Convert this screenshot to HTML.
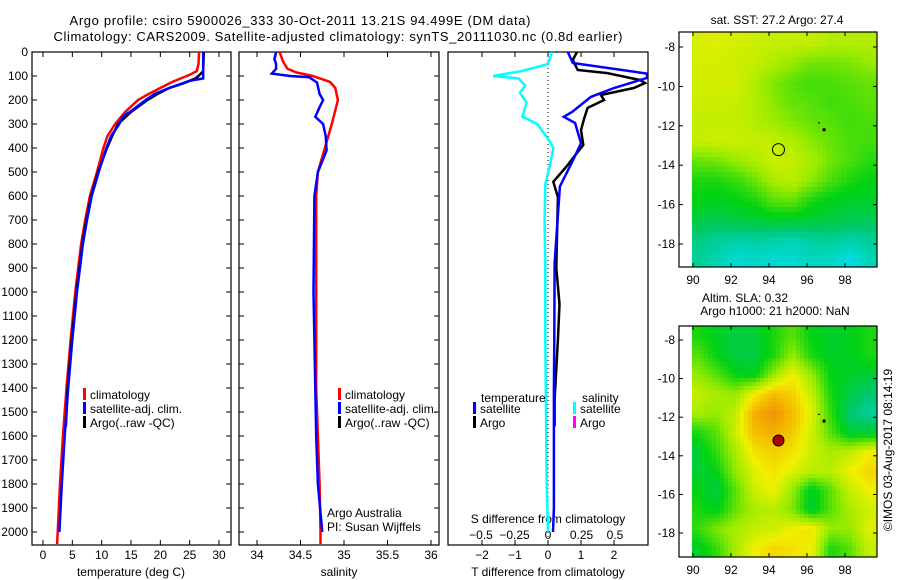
<!DOCTYPE html>
<html><head><meta charset="utf-8"><style>
html,body{margin:0;padding:0;background:#fff;}
svg{display:block;font-family:"Liberation Sans",sans-serif;}
text{font-size:12px;fill:#000;}
</style></head><body>
<svg id="fig" width="900" height="580" viewBox="0 0 900 580" xmlns="http://www.w3.org/2000/svg">
<defs>
<clipPath id="c1"><rect x="32" y="52" width="199" height="493"/></clipPath>
<clipPath id="c2"><rect x="239" y="52" width="200" height="493"/></clipPath>
<clipPath id="c3"><rect x="448" y="52" width="200" height="493"/></clipPath>
</defs>
<text x="300" y="25" text-anchor="middle" style="font-size:13px" textLength="461">Argo profile: csiro 5900026_333 30-Oct-2011 13.21S 94.499E (DM data)</text>
<text x="338" y="41" text-anchor="middle" style="font-size:13px" textLength="569">Climatology: CARS2009. Satellite-adjusted climatology: synTS_20111030.nc (0.8d earlier)</text>
<g id="g1"></g>
<g id="g2"></g>
<g id="g3"></g>
<g id="m1"></g>
<g id="m2"></g>
<text transform="translate(892,450) rotate(-90)" text-anchor="middle">©IMOS 03-Aug-2017 08:14:19</text>
</svg>
<script>
// ---- data ----
const depthClim = [0,50,80,95,110,125,150,175,200,250,300,350,400,500,600,700,800,900,1000,1200,1400,1600,1800,2000,2050];
const tempClim = [26.6,26.5,26.2,25,23.5,22,20,18,16.2,14,12.3,11,10.3,9.2,8,7.2,6.5,6,5.5,4.7,4.0,3.4,2.9,2.5,2.4];
const depthSat = [0,110,120,150,175,200,250,270,300,350,400,500,600,700,800,1000,1200,1400,1600,1800,2000];
const tempSat = [27.3,27.3,25,21.5,19,17.5,14.8,13.5,13,11.6,10.8,9.5,8.3,7.5,6.8,5.8,5.0,4.3,3.7,3.2,2.8];
const depthArgo = [0,80,100,110,130,150,175,200,250,300,350,400,500,600,700,800,1000,1200,1400,1560];
const tempArgo = [27.4,27.3,26.5,26,24,21.5,19.5,17.8,15,12.8,11.8,10.9,9.4,8.2,7.4,6.7,5.7,4.9,4.2,3.9];
const depthSalC = [0,40,70,85,100,125,150,200,300,400,500,600,800,1000,1400,1600,1800,2000,2050];
const salClim = [34.26,34.3,34.35,34.45,34.64,34.84,34.9,34.93,34.86,34.78,34.70,34.68,34.68,34.68,34.68,34.7,34.72,34.73,34.73];
const depthSalS = [0,30,50,70,90,100,105,127,175,200,230,270,300,350,410,500,600,1000,1400,1600,1800,2000];
const salSat = [34.22,34.2,34.22,34.22,34.17,34.38,34.6,34.69,34.72,34.76,34.72,34.67,34.76,34.79,34.8,34.70,34.66,34.65,34.67,34.68,34.7,34.75];
const depthTdS = [0,46,90,108,150,187,250,270,296,380,450,560,880,1200,1400,1900,2000];
const tdiffSat = [0.6,0.75,3.0,3.0,2.0,1.3,0.73,0.48,0.82,1.0,0.76,0.36,0.2,0.19,0.18,0.18,0.15];
const depthTdA = [0,33,75,88,117,129,150,179,200,233,275,325,387,479,541,604,900,1050,1200,1450,1560];
const tdiffArgo = [0.88,0.75,0.9,1.8,2.8,2.94,2.6,1.6,1.7,1.2,1.1,1.0,1.07,0.55,0.16,0.3,0.25,0.35,0.3,0.2,0.2];
const depthSd = [0,50,80,100,110,140,170,210,270,300,370,400,470,550,700,900,1200,1500,1800,2000];
const sdiffSat = [0.03,0.0,-0.2,-0.41,-0.22,-0.17,-0.21,-0.16,-0.19,-0.08,0.01,0.04,0.015,-0.02,-0.025,-0.02,-0.02,-0.015,-0.01,0.0];
const depthTicks = [0,100,200,300,400,500,600,700,800,900,1000,1100,1200,1300,1400,1500,1600,1700,1800,1900,2000];
const tempTicks = [0,5,10,15,20,25,30];
const salTicks = [34,34.5,35,35.5,36];
const salTickLabels = ["34","34.5","35","35.5","36"];
const tdTicks = [-2,-1,0,1,2];
const sdTicks = [-0.5,-0.25,0,0.25,0.5];
const sdTickLabels = ["-0.5","-0.25","0","0.25","0.5"];
const lonTicks = [90,92,94,96,98];
const latTicks = [-8,-10,-12,-14,-16,-18];
const argoLon = 94.499, argoLat = -13.21;
const sstGrid = [
[.67,.68,.67,.66,.65,.65,.65,.63,.63,.63],
[.67,.67,.66,.65,.63,.6,.57,.57,.58,.6],
[.66,.67,.67,.63,.58,.55,.53,.54,.55,.56],
[.66,.66,.65,.63,.59,.56,.55,.53,.54,.55],
[.65,.65,.65,.63,.61,.58,.56,.55,.53,.54],
[.65,.66,.66,.65,.65,.63,.59,.56,.54,.53],
[.56,.57,.6,.63,.66,.65,.62,.57,.54,.51],
[.5,.5,.52,.56,.62,.64,.59,.54,.5,.48],
[.48,.47,.48,.5,.55,.56,.5,.47,.46,.46],
[.44,.43,.44,.45,.46,.46,.45,.44,.43,.42],
[.38,.36,.34,.35,.34,.33,.35,.36,.34,.36],
[.36,.33,.3,.31,.3,.3,.32,.31,.28,.33]];
const slaGrid = [
[.5,.47,.44,.45,.5,.55,.48,.46,.47,.5],
[.55,.48,.44,.44,.5,.6,.5,.46,.47,.5],
[.6,.55,.48,.47,.6,.7,.6,.48,.46,.45],
[.65,.62,.6,.7,.78,.75,.65,.5,.44,.4],
[.62,.6,.65,.8,.85,.78,.68,.52,.4,.35],
[.5,.55,.66,.78,.8,.76,.66,.55,.45,.45],
[.45,.52,.62,.72,.75,.72,.66,.62,.64,.7],
[.45,.48,.6,.68,.72,.68,.64,.64,.7,.74],
[.48,.44,.55,.66,.7,.6,.46,.55,.65,.7],
[.5,.47,.56,.62,.64,.58,.45,.55,.62,.66],
[.52,.58,.62,.65,.66,.7,.72,.6,.6,.68],
[.46,.52,.62,.7,.74,.72,.7,.5,.55,.65]];
const gridLon0 = 90.25, gridLat0 = -7.8;

// ---- helpers ----
const NS="http://www.w3.org/2000/svg";
function el(tag, attrs, parent){const e=document.createElementNS(NS,tag);for(const k in attrs)e.setAttribute(k,attrs[k]);parent.appendChild(e);return e;}
const yD = d => 52 + d*0.24;
const xT = t => 43 + t*5.867;
const xS = s => 257 + (s-34)*87;
const xTd = t => 548 + t*33;
const xSd = s => 548 + s*134;

function line(g, xs, ds, fx, color, w, name, clip){
  const pts = xs.map((v,i)=>fx(v).toFixed(1)+","+yD(ds[i]).toFixed(1)).join(" ");
  const p = el("polyline",{points:pts,fill:"none",stroke:color,"stroke-width":w,"clip-path":"url(#"+clip+")"},g);
  
  
}
function txt(g, x, y, s, anchor, name){
  const t = el("text",{x:x,y:y,"text-anchor":anchor||"start"},g); t.textContent=s;
  
  
  return t;
}
function frame(g, x0, x1, name, leftLabels){
  const r = el("rect",{x:x0,y:52,width:x1-x0,height:493,fill:"none",stroke:"#000","stroke-width":1.2},g);
  
  
  depthTicks.forEach(d=>{
    el("line",{x1:x0,x2:x0+5,y1:yD(d),y2:yD(d),stroke:"#000"},g);
    el("line",{x1:x1,x2:x1-5,y1:yD(d),y2:yD(d),stroke:"#000"},g);
    if(leftLabels){const t=txt(g,x0-4,yD(d)+4,String(d),"end","depth-tick-label");}
  });
}
function legendEntry(g,x,y,color,label,name){
  el("rect",{x:x,y:y-9,width:3,height:12,fill:color},g);
  const t = txt(g,x+7,y+2,label,"start",name);
}

// ---- panel 1: temperature ----
const g1=document.getElementById("g1");
frame(g1,32,231,"temperature-axes",true);
tempTicks.forEach(t=>{
  el("line",{x1:xT(t),x2:xT(t),y1:545,y2:540,stroke:"#000"},g1);
  el("line",{x1:xT(t),x2:xT(t),y1:52,y2:57,stroke:"#000"},g1);
  txt(g1,xT(t),559,String(t),"middle","temperature-tick-label");
});
txt(g1,131,576,"temperature (deg C)","middle","temperature-axis-title");
line(g1,tempClim,depthClim,xT,"#f00",2.5,"temperature-climatology-line","c1");
line(g1,tempArgo,depthArgo,xT,"#000",2.5,"temperature-argo-line","c1");
line(g1,tempSat,depthSat,xT,"#00f",2.5,"temperature-satellite-line","c1");
legendEntry(g1,83,397,"#f00","climatology","legend-climatology");
legendEntry(g1,83,411,"#00f","satellite-adj. clim.","legend-satellite-adj");
legendEntry(g1,83,425,"#000","Argo(..raw -QC)","legend-argo");

// ---- panel 2: salinity ----
const g2=document.getElementById("g2");
frame(g2,239,439,"salinity-axes",false);
salTicks.forEach((s,i)=>{
  el("line",{x1:xS(s),x2:xS(s),y1:545,y2:540,stroke:"#000"},g2);
  el("line",{x1:xS(s),x2:xS(s),y1:52,y2:57,stroke:"#000"},g2);
  txt(g2,xS(s),559,salTickLabels[i],"middle","salinity-tick-label");
});
txt(g2,339,576,"salinity","middle","salinity-axis-title");
line(g2,salClim,depthSalC,xS,"#f00",2.5,"salinity-climatology-line","c2");
line(g2,salSat,depthSalS,xS,"#00f",2.5,"salinity-satellite-line","c2");
legendEntry(g2,338,397,"#f00","climatology","legend-climatology");
legendEntry(g2,338,411,"#00f","satellite-adj. clim.","legend-satellite-adj");
legendEntry(g2,338,425,"#000","Argo(..raw -QC)","legend-argo");
txt(g2,327,517,"Argo Australia","start","argo-australia-label");
txt(g2,327,531,"PI: Susan Wijffels","start","pi-label");

// ---- panel 3: differences ----
const g3=document.getElementById("g3");
const r3=el("rect",{x:448,y:52,width:200,height:493,fill:"none",stroke:"#000","stroke-width":1.2},g3);


tdTicks.forEach(t=>{
  el("line",{x1:xTd(t),x2:xTd(t),y1:545,y2:540,stroke:"#000"},g3);
  el("line",{x1:xTd(t),x2:xTd(t),y1:52,y2:57,stroke:"#000"},g3);
  txt(g3,xTd(t),559,t<0?"−"+(-t):String(t),"middle","tdiff-tick-label");
});
sdTicks.forEach((s,i)=>{ txt(g3,xSd(s),539,sdTickLabels[i].replace("-","−"),"middle","sdiff-tick-label"); });
txt(g3,548,523,"S difference from climatology","middle","sdiff-axis-title");
txt(g3,548,576,"T difference from climatology","middle","tdiff-axis-title");
const zl=el("line",{x1:548,x2:548,y1:52,y2:545,stroke:"#000","stroke-dasharray":"1,3"},g3);


line(g3,sdiffSat,depthSd,xSd,"#0ff",2.5,"sdiff-satellite-line","c3");
line(g3,tdiffArgo,depthTdA,xTd,"#000",2.5,"tdiff-argo-line","c3");
line(g3,tdiffSat,depthTdS,xTd,"#00f",2.5,"tdiff-satellite-line","c3");
txt(g3,481,402,"temperature","start","legend-temperature-heading");
legendEntry(g3,473,411,"#00f","satellite","legend-tdiff-satellite");
legendEntry(g3,473,425,"#000","Argo","legend-tdiff-argo");
txt(g3,582,402,"salinity","start","legend-salinity-heading");
legendEntry(g3,573,411,"#0ff","satellite","legend-sdiff-satellite");
legendEntry(g3,573,425,"#f0f","Argo","legend-sdiff-argo");

// ---- maps ----
const stops=[[0,[0,60,255]],[0.28,[0,220,230]],[0.4,[0,200,110]],[0.48,[0,210,20]],[0.6,[150,235,0]],[0.7,[240,240,0]],[0.8,[245,175,0]],[0.9,[230,120,20]],[1,[170,0,0]]];
function cmap(v){
  v=Math.max(0,Math.min(1,v));
  for(let i=1;i<stops.length;i++){ if(v<=stops[i][0]){const a=stops[i-1],b=stops[i];const f=(v-a[0])/(b[0]-a[0]);
    return "rgb("+a[1].map((c,k)=>Math.round(c+(b[1][k]-c)*f)).join(",")+")";}}
  return "rgb(170,0,0)";
}
function sample(grid,lon,lat){
  const fx=Math.max(0,Math.min(grid[0].length-1,lon-gridLon0));
  const fy=Math.max(0,Math.min(grid.length-1,gridLat0-lat));
  const i0=Math.floor(fy),j0=Math.floor(fx),i1=Math.min(i0+1,grid.length-1),j1=Math.min(j0+1,grid[0].length-1);
  const u=fx-j0,w=fy-i0;
  return grid[i0][j0]*(1-u)*(1-w)+grid[i0][j1]*u*(1-w)+grid[i1][j0]*(1-u)*w+grid[i1][j1]*u*w;
}
function drawMap(id,grid,top,bottom,yLat8,pxLat,titleLines,filled,cell){
  const g=document.getElementById(id);
  const xL=lon=>693+(lon-90)*19.0;
  const yL=lat=>yLat8+(-8-lat)*pxLat;
  for(let y=top;y<bottom;y+=cell){
    for(let x=692;x<877;x+=cell){
      const lon=90+(x+cell/2-693)/19.0, lat=-8-((y+cell/2)-yLat8)/pxLat;
      el("rect",{x:x,y:y,width:Math.min(cell,877-x)+0.3,height:Math.min(cell,bottom-y)+0.3,fill:cmap(sample(grid,lon,lat))},g);
    }
  }
  const fr=el("rect",{x:679,y:top,width:198,height:bottom-top,fill:"none",stroke:"#000","stroke-width":1.2},g);
  
  
  lonTicks.forEach(l=>{
    el("line",{x1:xL(l),x2:xL(l),y1:bottom,y2:bottom-4,stroke:"#000"},g);
    el("line",{x1:xL(l),x2:xL(l),y1:top,y2:top+4,stroke:"#000"},g);
    txt(g,xL(l),bottom+17,String(l),"middle","longitude-tick-label");
  });
  latTicks.forEach(l=>{
    el("line",{x1:679,x2:683,y1:yL(l),y2:yL(l),stroke:"#000"},g);
    el("line",{x1:877,x2:873,y1:yL(l),y2:yL(l),stroke:"#000"},g);
    txt(g,675,yL(l)+4,"-"+(-l),"end","latitude-tick-label");
  });
  titleLines.forEach((s,i)=>txt(g,s[1],s[2],s[0],"middle","map-title"));
  const c=el("circle",{cx:xL(argoLon),cy:yL(argoLat),r:filled?5.5:6,fill:filled?"#b00000":"none",stroke:"#000","stroke-width":1},g);
  
  
  el("rect",{x:xL(96.9)-1.5,y:yL(-12.2)-1.5,width:3,height:3,fill:"#000"},g);
  el("rect",{x:xL(96.6)-0.5,y:yL(-11.85)-0.5,width:2,height:1,fill:"#000"},g);
}
drawMap("m1",sstGrid,32,267,47,19.7,[["sat. SST: 27.2 Argo: 27.4",777,24]],false,5);
drawMap("m2",slaGrid,326,557,340,19.3,[["Altim. SLA: 0.32",745,302],["Argo h1000: 21 h2000: NaN",775,315]],true,4);
</script>
</body></html>
